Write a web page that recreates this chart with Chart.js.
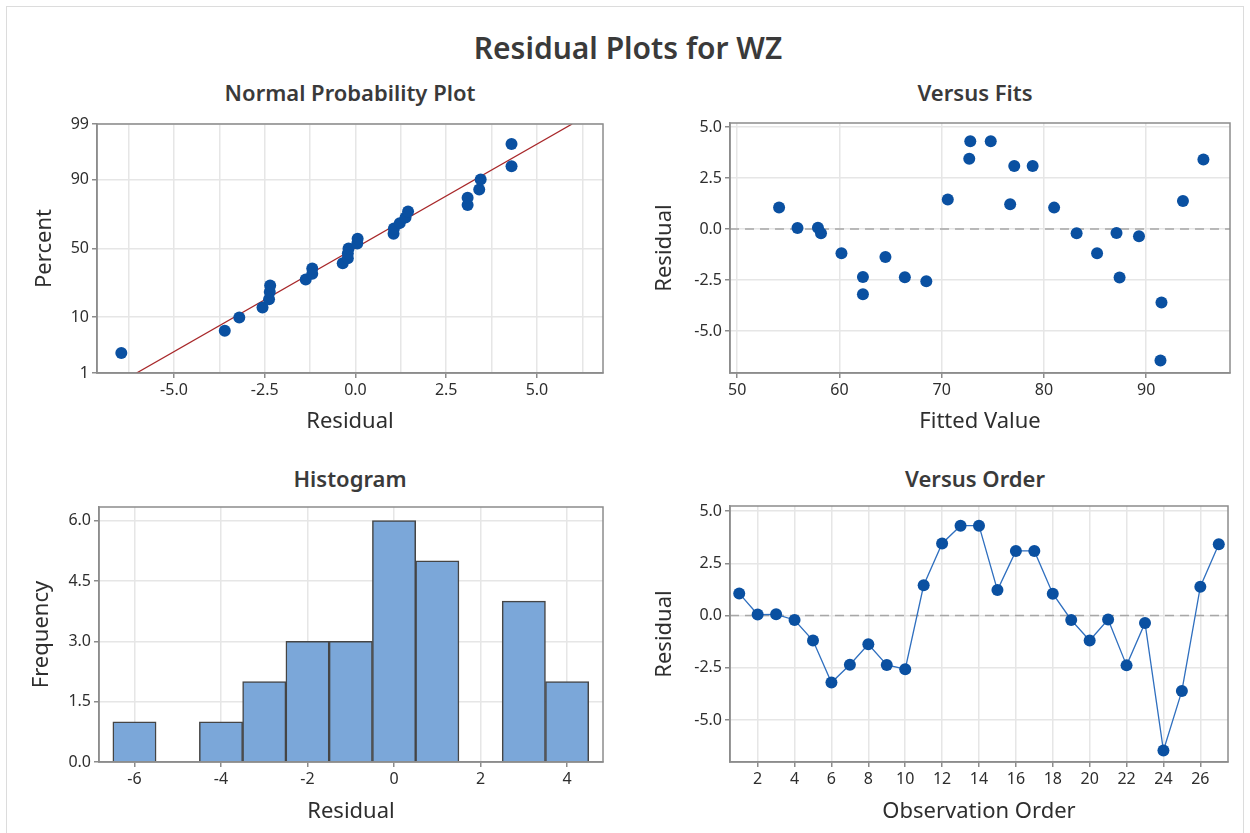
<!DOCTYPE html>
<html>
<head>
<meta charset="utf-8">
<script src="https://cdn.jsdelivr.net/npm/chart.js@4.4.1/dist/chart.umd.min.js"></script>
<style>
body { margin: 0; background: #fff; width: 1250px; height: 833px; overflow: hidden; position: relative; font-family: 'Noto Sans', sans-serif; color: #3a3a3a; }
.moldura { position: absolute; left: 6px; top: 6px; width: 1236px; height: 840px; border: 1px solid #dcdcdc; }
.ttl { position: absolute; width: 600px; text-align: center; height: 30px; line-height: 30px; font-size: 22px; font-weight: 600; }
#principal { font-size: 30px; height: 40px; line-height: 40px; }
canvas { position: absolute; }
</style>
</head>
<body>
<div class="moldura"></div>
<div class="ttl" id="principal" style="left:328px; top:28px;">Residual Plots for WZ</div>
<div class="ttl" style="left:50px; top:77px;">Normal Probability Plot</div>
<div class="ttl" style="left:675px; top:77px;">Versus Fits</div>
<div class="ttl" style="left:50px; top:463px;">Histogram</div>
<div class="ttl" style="left:675px; top:463px;">Versus Order</div>
<script>
var ordem = [1, 2, 3, 4, 5, 6, 7, 8, 9, 10, 11, 12, 13, 14, 15, 16, 17, 18, 19, 20, 21, 22, 23, 24, 25, 26, 27];
var residuos = [1.06, 0.05, 0.06, -0.21, -1.19, -3.2, -2.35, -1.37, -2.36, -2.56, 1.45, 3.45, 4.3, 4.3, 1.22, 3.09, 3.09, 1.05, -0.21, -1.19, -0.19, -2.38, -0.35, -6.45, -3.6, 1.38, 3.41];
var ajustados = [54.1, 55.9, 57.9, 58.2, 60.2, 62.3, 62.3, 64.5, 66.4, 68.5, 70.6, 72.7, 72.8, 74.8, 76.7, 77.1, 78.9, 81.0, 83.2, 85.2, 87.1, 87.4, 89.3, 91.4, 91.5, 93.6, 95.6];

// histograma
var classes = [-6, -5, -4, -3, -2, -1, 0, 1, 2, 3, 4];
var frequencias = [1, 0, 1, 2, 3, 3, 6, 5, 0, 4, 2];

// reta de referencia do grafico de probabilidade normal
var retaResiduo = [-6.03, 5.97];
var retaPercent = [1, 99];

// marcas dos eixos
var ticksPercent = [1, 10, 50, 90, 99];
var ticksResiduoNpp = [-6.25, -5, -3.75, -2.5, -1.25, 0, 1.25, 2.5, 3.75, 5, 6.25];
var ticksResiduo = [-5, -2.5, 0, 2.5, 5];
var ticksAjustado = [50, 60, 70, 80, 90];
var ticksOrdem = [2, 4, 6, 8, 10, 12, 14, 16, 18, 20, 22, 24, 26];
var ticksClasse = [-6, -4, -2, 0, 2, 4];
var ticksFreq = [0, 1.5, 3, 4.5, 6];

var GRADE = '#e6e6e6', EIXO = '#8c8c8c', TXT = '#2e2e2e', AZUL = '#0a50a1';
var FONTE_TIT = 22, ALT_TIT = FONTE_TIT * 1.2;

Chart.defaults.font.family = "'Noto Sans', sans-serif";
Chart.defaults.color = TXT;

function probit(p) {
    var q = p < 0.5 ? p : 1 - p;
    var t = Math.sqrt(-2 * Math.log(q));
    var z = t - (2.515517 + 0.802853 * t + 0.010328 * t * t) / (1 + 1.432788 * t + 0.189269 * t * t + 0.001308 * t * t * t);
    return p < 0.5 ? -z : z;
}

// posicoes de Benard, como no Minitab
function pontosNormais(vals) {
    var s = vals.slice().sort(function(a, b) { return a - b; });
    var n = s.length, ret = [];
    for (var i = 0; i < n; i++) {
        ret.push({ x: s[i], y: probit((i + 1 - 0.3) / (n + 0.4)) });
    }
    return ret;
}

function pares(xs, ys) {
    var ret = [];
    for (var i = 0; i < xs.length; i++) ret.push({ x: xs[i], y: ys[i] });
    return ret;
}

function eixo(pos, min, max, valores, fmt, titulo, tpad, principal) {
    return {
        type: 'linear', position: pos, min: min, max: max, offset: false,
        afterBuildTicks: function(s) {
            s.ticks = valores.map(function(v) { return { value: v }; });
        },
        afterFit: function(s) {
            if (pos === 'left') s.width = 80;
            else s.height = 70;
        },
        grid: {
            color: GRADE, lineWidth: 1.5, offset: false, tickLength: 5, tickWidth: 1.5,
            tickColor: function(c) {
                if (!principal || !c.tick) return EIXO;
                return principal(c.tick.value) ? EIXO : 'rgba(0,0,0,0)';
            }
        },
        border: { color: EIXO, width: 1.5 },
        ticks: {
            color: TXT, font: { size: 16 }, padding: 3, maxRotation: 0, autoSkip: false,
            callback: function(v, i) { return fmt(v, i); }
        },
        title: { display: true, text: titulo, color: TXT, font: { size: FONTE_TIT }, padding: { top: tpad, bottom: tpad } }
    };
}

var moldura = {
    id: 'moldura',
    afterDraw: function(chart) {
        var a = chart.chartArea, ctx = chart.ctx;
        ctx.save();
        ctx.strokeStyle = EIXO;
        ctx.lineWidth = 1.5;
        ctx.strokeRect(a.left, a.top, a.right - a.left, a.bottom - a.top);
        ctx.restore();
    }
};

var linhaZero = {
    id: 'linhaZero',
    beforeDatasetsDraw: function(chart) {
        var y = chart.scales.y.getPixelForValue(0), a = chart.chartArea, ctx = chart.ctx;
        ctx.save();
        ctx.strokeStyle = '#a8a8a8';
        ctx.lineWidth = 1.5;
        ctx.setLineDash([9, 6]);
        ctx.beginPath();
        ctx.moveTo(a.left, y);
        ctx.lineTo(a.right, y);
        ctx.stroke();
        ctx.restore();
    }
};

function painel(area, yTitulo, xTitulo) {
    var c = document.createElement('canvas');
    var left = area.l - 80, top = area.t - 20;
    var w = area.r + 20 - left, h = area.b + 70 - top;
    c.width = w;
    c.height = h;
    c.style.left = left + 'px';
    c.style.top = top + 'px';
    c.style.width = w + 'px';
    c.style.height = h + 'px';
    document.body.appendChild(c);
    return { el: c, ytp: yTitulo - left - ALT_TIT / 2, xtp: area.b + 70 - ALT_TIT / 2 - xTitulo };
}

function basico(p) {
    return {
        responsive: false, animation: false, devicePixelRatio: 1, events: [],
        layout: { padding: { left: 0, top: 20, right: 20, bottom: 0 } },
        plugins: { legend: { display: false }, tooltip: { enabled: false } }
    };
}

var um = function(v) { return v.toFixed(1); };

// Normal Probability Plot
var p1 = painel({ l: 97, t: 124, r: 603, b: 373 }, 45, 422);
var o1 = basico(p1);
o1.scales = {
    x: eixo('bottom', -7.12, 6.82, ticksResiduoNpp, function(v) {
        return Math.abs(v % 2.5) < 1e-9 ? v.toFixed(1) : '';
    }, 'Residual', p1.xtp, function(v) { return Math.abs(v % 2.5) < 1e-9; }),
    y: eixo('left', probit(0.01), probit(0.99), ticksPercent.map(function(v) { return probit(v / 100); }), function(v, i) {
        return String(ticksPercent[i]);
    }, 'Percent', p1.ytp)
};
new Chart(p1.el, {
    type: 'scatter',
    data: {
        datasets: [{
            data: pontosNormais(residuos),
            pointRadius: 6, pointBackgroundColor: AZUL, pointBorderWidth: 0, order: 0
        }, {
            type: 'line',
            data: pares(retaResiduo, retaPercent.map(function(v) { return probit(v / 100); })),
            borderColor: '#a8282a', borderWidth: 1.3, pointRadius: 0, order: 1
        }]
    },
    options: o1,
    plugins: [moldura]
});

// Versus Fits
var p2 = painel({ l: 730, t: 123, r: 1230, b: 373 }, 665, 422);
var o2 = basico(p2);
o2.scales = {
    x: eixo('bottom', 49.3, 98.2, ticksAjustado, function(v) { return String(v); }, 'Fitted Value', p2.xtp),
    y: eixo('left', -7.06, 5.2, ticksResiduo, um, 'Residual', p2.ytp)
};
new Chart(p2.el, {
    type: 'scatter',
    data: {
        datasets: [{
            data: pares(ajustados, residuos),
            pointRadius: 6, pointBackgroundColor: AZUL, pointBorderWidth: 0
        }]
    },
    options: o2,
    plugins: [linhaZero, moldura]
});

// Histogram
var p3 = painel({ l: 99, t: 507, r: 603, b: 762 }, 42, 812);
var o3 = basico(p3);
o3.scales = {
    x: eixo('bottom', -6.82, 4.83, ticksClasse, function(v) { return String(v); }, 'Residual', p3.xtp),
    y: eixo('left', 0, 6.34, ticksFreq, um, 'Frequency', p3.ytp)
};
new Chart(p3.el, {
    type: 'bar',
    data: {
        datasets: [{
            data: pares(classes, frequencias),
            backgroundColor: '#7ba7d9', borderColor: '#454545', borderWidth: 1.5,
            barPercentage: 1, categoryPercentage: 1
        }]
    },
    options: o3,
    plugins: [moldura]
});

// Versus Order
var p4 = painel({ l: 730, t: 506, r: 1228, b: 762 }, 665, 812);
var o4 = basico(p4);
o4.scales = {
    x: eixo('bottom', 0.5, 27.5, ticksOrdem, function(v) { return String(v); }, 'Observation Order', p4.xtp),
    y: eixo('left', -7.0, 5.24, ticksResiduo, um, 'Residual', p4.ytp)
};
new Chart(p4.el, {
    type: 'line',
    data: {
        datasets: [{
            data: pares(ordem, residuos),
            borderColor: '#2f6fbf', borderWidth: 1.3,
            pointRadius: 6, pointBackgroundColor: AZUL, pointBorderWidth: 0
        }]
    },
    options: o4,
    plugins: [linhaZero, moldura]
});
</script>
</body>
</html>
